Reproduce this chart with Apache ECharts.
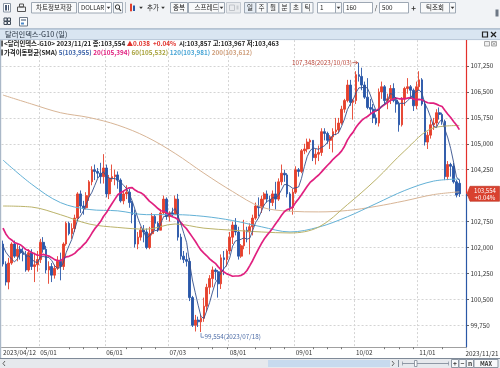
<!DOCTYPE html>
<html><head><meta charset="utf-8">
<script src="https://cdn.jsdelivr.net/npm/echarts@6/dist/echarts.min.js"></script>
<style>html,body{margin:0;padding:0;background:#fff;overflow:hidden}#c{width:500px;height:368px}</style>
</head><body><div id="c"></div>
<script>
// ---------- DATA ----------
// trading days (weekdays) 2023/04/12 .. 2023/11/21
const dates = (function () {
  const out = [];
  const d = new Date(Date.UTC(2023, 3, 12)), end = new Date(Date.UTC(2023, 10, 21));
  while (d <= end) {
    const wd = d.getUTCDay();
    if (wd > 0 && wd < 6) out.push(d.getUTCFullYear() + '/' + String(d.getUTCMonth() + 1).padStart(2, '0') + '/' + String(d.getUTCDate()).padStart(2, '0'));
    d.setUTCDate(d.getUTCDate() + 1);
  }
  return out;
})();
// closes before the visible window (for SMA5 / SMA20)
const priorCloses = [104.40,103.85,103.30,103.25,102.55,102.50,103.10,102.85,102.45,102.65,102.15,102.50,102.05,101.55,101.85,101.95,102.10,102.55,102.15];
const open = [
102.10,101.52,101.00,101.55,102.10,101.75,101.95,101.85,101.80,101.35,
101.85,101.45,101.50,101.65,102.15,101.95,101.35,101.45,101.20,101.40,
101.60,101.45,102.10,102.70,102.40,102.55,102.85,103.55,103.20,103.15,
103.50,103.90,104.25,104.20,104.15,104.05,104.30,103.55,104.00,104.05,
104.10,103.95,103.35,103.55,103.60,103.30,102.95,102.10,102.30,102.50,
102.45,102.00,102.40,102.90,102.70,102.50,103.00,103.40,102.90,103.00,
102.95,103.40,102.30,101.75,101.65,101.60,100.55,99.75,99.90,99.85,
99.95,100.30,100.85,101.10,101.35,101.30,100.95,101.70,101.65,101.90,
102.30,102.65,102.45,101.75,102.05,102.50,102.45,102.60,102.85,103.20,
103.15,103.40,103.55,103.40,103.30,103.55,103.40,103.90,104.15,104.10,
103.55,103.15,103.60,104.25,104.20,104.80,104.85,105.05,105.10,104.60,
104.70,104.75,105.35,105.30,105.10,105.20,105.35,105.40,105.60,106.00,
106.25,106.70,106.20,106.25,107.00,106.95,106.70,106.35,106.05,106.00,
105.75,105.60,106.50,106.65,106.25,106.30,106.60,106.25,106.15,105.55,
106.30,106.60,106.65,106.55,106.10,106.65,106.85,106.15,105.05,105.25,
105.55,105.60,105.90,105.85,105.65,104.05,104.40,104.35,103.90,103.857];
const close = [
101.52,101.00,101.55,102.10,101.75,101.95,101.85,101.80,101.35,101.85,
101.45,101.50,101.65,102.15,101.95,101.35,101.45,101.20,101.40,101.60,
101.45,102.10,102.70,102.40,102.55,102.85,103.55,103.20,103.15,103.50,
103.90,104.25,104.20,104.15,104.05,104.30,103.55,104.00,104.05,104.10,
103.95,103.35,103.55,103.60,103.30,102.95,102.10,102.30,102.50,102.45,
102.00,102.40,102.90,102.70,102.50,103.00,103.40,102.90,103.00,102.95,
103.40,102.30,101.75,101.65,101.60,100.55,99.75,99.90,99.85,99.95,
100.30,100.85,101.10,101.35,101.30,100.95,101.70,101.65,101.90,102.30,
102.65,102.45,101.75,102.05,102.50,102.45,102.60,102.85,103.20,103.15,
103.40,103.55,103.40,103.30,103.55,103.40,103.90,104.15,104.10,103.55,
103.15,103.60,104.25,104.20,104.80,104.85,105.05,105.10,104.60,104.70,
104.75,105.35,105.30,105.10,105.20,105.35,105.40,105.60,106.00,106.25,
106.70,106.20,106.25,107.00,106.95,106.70,106.35,106.05,106.00,105.75,
105.60,106.50,106.65,106.25,106.30,106.60,106.25,106.15,105.55,106.30,
106.60,106.65,106.55,106.10,106.65,106.85,106.15,105.05,105.25,105.55,
105.60,105.90,105.85,105.65,104.05,104.40,104.35,103.90,103.516,103.554];
const low = [
101.45,100.90,100.79,101.50,101.70,101.60,101.65,101.60,101.30,101.30,
101.35,101.00,101.30,101.55,101.85,101.25,100.95,101.00,101.10,101.35,
101.05,101.35,102.05,102.35,102.25,102.45,102.80,103.00,102.95,103.10,
103.35,103.80,103.95,104.00,103.85,103.85,103.45,103.40,103.90,103.80,
103.70,103.30,103.25,103.40,103.15,102.70,102.00,101.95,102.20,102.15,
101.95,101.95,102.35,102.50,102.45,102.50,102.95,102.80,102.75,102.90,
102.95,102.20,101.65,101.55,101.45,100.45,99.70,99.57,99.70,99.554,
99.85,100.15,100.65,100.85,101.05,100.55,100.80,101.20,101.45,101.80,
102.10,102.35,101.65,101.70,101.95,102.15,101.80,102.35,102.80,102.90,
103.00,103.20,103.30,103.05,103.20,103.10,103.35,103.80,103.90,103.45,
103.05,102.95,103.55,104.05,104.15,104.70,104.75,104.85,104.50,104.40,
104.50,104.65,105.10,105.00,104.85,104.75,105.25,105.30,105.55,105.90,
106.20,106.10,105.70,106.15,106.80,106.55,106.30,106.00,105.85,105.60,
105.55,105.50,106.30,106.15,106.00,106.15,106.20,105.90,105.35,105.50,
106.10,106.45,106.30,105.95,106.00,106.55,106.10,104.95,104.85,105.15,
105.40,105.50,105.70,105.55,103.95,103.95,104.05,103.85,103.45,103.463];
const high = [
102.20,101.60,101.70,102.15,102.20,102.10,102.05,102.00,101.90,101.95,
101.95,101.85,101.90,102.25,102.30,102.05,101.60,101.55,101.50,101.75,
101.85,102.15,102.75,102.75,102.70,102.95,103.60,103.65,103.35,103.60,
103.95,104.35,104.40,104.30,104.45,104.70,104.40,104.10,104.40,104.25,
104.20,104.00,103.65,103.80,103.70,103.35,103.10,102.45,102.60,102.65,
102.55,102.60,103.00,102.95,102.75,103.10,103.50,103.45,103.05,103.15,
103.50,103.55,102.40,101.90,101.85,101.70,100.60,100.05,100.00,100.05,
100.55,100.95,101.20,101.45,101.40,101.35,101.80,101.90,101.95,102.45,
102.75,102.85,102.60,102.10,102.80,102.60,102.70,102.95,103.30,103.45,
103.50,103.60,103.65,103.50,103.65,103.90,104.00,104.40,104.25,104.15,
103.60,103.70,104.35,104.30,104.85,105.00,105.15,105.15,105.10,104.85,
104.95,105.45,105.45,105.35,105.25,105.45,105.75,105.75,106.10,106.30,
106.85,106.85,106.30,107.10,107.348,107.20,106.80,106.90,106.30,106.15,
105.85,106.60,106.80,106.70,106.45,106.70,106.75,106.35,106.20,106.35,
106.65,106.90,106.70,106.60,106.80,107.10,106.90,106.20,105.35,105.70,
105.75,106.00,106.05,105.90,105.70,104.50,104.45,104.45,103.95,103.967];
// long moving averages at these candle indices
const maIdx  = [0, 10, 20, 30, 40, 50, 60, 70, 80, 90, 100, 110, 120, 130, 140, 150, 159];
const ma60   = [103.20,103.17,102.95,102.68,102.58,102.53,102.68,102.56,102.50,102.45,102.42,102.59,103.24,103.97,104.80,105.46,105.53];
const ma120  = [104.53,103.83,103.30,103.10,103.06,102.95,102.95,102.90,102.78,102.60,102.45,102.59,102.89,103.27,103.65,103.92,103.98];
const ma200  = [106.41,106.15,105.90,105.76,105.54,105.20,104.72,104.15,103.62,103.17,103.05,103.03,103.07,103.19,103.35,103.53,103.61];
// legend values shown in the header
const smaPeriods = [5, 20, 60, 120, 200];
const smaLegend = [103.955, 105.394, 105.532, 103.981, 103.612];
// y axis ticks
const yMin = 99, yMax = 108, yStep = 0.75;

// ---------- HELPERS ----------
const FF = '"Noto Sans CJK KR","Noto Sans",sans-serif';
const fmt3 = v => v.toFixed(3).replace('.', ',');
function sma(n) {
  const all = priorCloses.concat(close), off = priorCloses.length;
  return close.map((_, i) => {
    const k = i + off; if (k - n + 1 < 0) return null;
    let s = 0; for (let j = k - n + 1; j <= k; j++) s += all[j];
    return +(s / n).toFixed(4);
  });
}
const ma5 = sma(5), ma20 = sma(20);
const candles = close.map((c, i) => [open[i], c, low[i], high[i]]);
const xData = dates.concat(['', '']);
const monthSet = new Set(); dates.forEach((d, i) => { if (i > 0 && d.slice(5, 7) !== dates[i - 1].slice(5, 7)) monthSet.add(i); });
const labelSet = new Set([0, ...monthSet]);
const tickSet = new Set();
dates.forEach((d, i) => {
  const wd = new Date(d.replace(/\//g, '-') + 'T00:00:00Z').getUTCDay();
  if (wd === 1 && ![...labelSet].some(m => i >= m && i - m < 6) && i < 156) tickSet.add(i);
});
const COL = { up: '#e5412c', down: '#2957a8', m5: '#34508c', m20: '#e0207f', m60: '#bbb36a', m120: '#63b1d6', m200: '#d8b596' };

const chart = echarts.init(document.getElementById('c'), null, { renderer: 'canvas' });
const GRID_RIGHT = 33.5;
const lastC = close[close.length - 1], prevC = close[close.length - 2];
const chg = lastC - prevC, pct = chg / prevC * 100;
const chgStr = (chg >= 0 ? '▲' : '▼') + Math.abs(chg).toFixed(3);
const pctStr = (pct >= 0 ? '+' : '') + pct.toFixed(2) + '%';
const L = close.length - 1;
const HF = 6.35;

const option = {
  animation: false,
  backgroundColor: '#ffffff',
  title: [
    { left: 4, top: 39, padding: 0,
      text: '{k|<달러인덱스-G10> ' + dates[L] + ' 종:' + fmt3(lastC) + ' }{r|' + chgStr + '  ' + pctStr + '}{k|  시:' + fmt3(open[L]) + ' 고:' + fmt3(high[L]) + ' 저:' + fmt3(low[L]) + '}',
      textStyle: { rich: {
        k: { color: '#222', fontSize: HF, fontFamily: FF, lineHeight: 9 },
        r: { color: '#e0302a', fontSize: HF, fontFamily: FF, lineHeight: 9 } } } },
    { left: 4, top: 48, padding: 0,
      text: '{k|가격이동평균(SMA) }' + smaPeriods.map((p, i) => '{s' + i + '|' + p + '(' + fmt3(smaLegend[i]) + ')}').join('{k| }'),
      textStyle: { rich: {
        k: { color: '#222', fontSize: HF, fontFamily: FF, lineHeight: 9 },
        s0: { color: '#3b62a8', fontSize: HF, fontFamily: FF, lineHeight: 9 },
        s1: { color: '#e0207f', fontSize: HF, fontFamily: FF, lineHeight: 9 },
        s2: { color: '#a8a23c', fontSize: HF, fontFamily: FF, lineHeight: 9 },
        s3: { color: '#4aa6d6', fontSize: HF, fontFamily: FF, lineHeight: 9 },
        s4: { color: '#cf9f7c', fontSize: HF, fontFamily: FF, lineHeight: 9 } } } }
  ],
  grid: { left: 0, right: GRID_RIGHT, top: 40.1, bottom: 16.8 },
  xAxis: [
    { type: 'category', data: xData, boundaryGap: true, z: 0,
      axisLine: { show: false }, axisTick: { show: false }, axisLabel: { show: false },
      splitLine: { show: true, interval: (i) => monthSet.has(i), lineStyle: { color: '#d4d4d4', type: [2, 2], width: 1 } } },
    { type: 'category', data: xData, boundaryGap: true, position: 'bottom', offset: -4, z: 10,
      axisLine: { show: true, lineStyle: { color: '#a0a0a0', width: 1 } },
      axisTick: { show: true, alignWithLabel: true, interval: (i) => tickSet.has(i), length: 2, lineStyle: { color: '#777' } },
      axisLabel: { show: true, interval: (i) => labelSet.has(i), align: 'left', margin: 2.5,
        fontSize: 6.3, fontFamily: FF, color: '#333',
        formatter: (v, i) => (i === 0 ? v : v.slice(5)) },
      splitLine: { show: false } }
  ],
  yAxis: {
    type: 'value', position: 'right', min: yMin, max: yMax, interval: yStep,
    axisLine: { show: false },
    axisTick: { show: true, length: 2.5, lineStyle: { color: '#666' } },
    axisLabel: { fontSize: 6.3, fontFamily: FF, color: '#333', margin: 4, showMinLabel: false, showMaxLabel: false,
      formatter: v => fmt3(v) },
    splitLine: { show: true, showMinLine: false, showMaxLine: false, lineStyle: { color: '#d4d4d4', type: [2, 2], width: 1 } }
  },
  series: [
    { type: 'candlestick', xAxisIndex: 0, data: candles, barWidth: 2.2,
      itemStyle: { color: COL.up, color0: COL.down, borderColor: COL.up, borderColor0: COL.down, borderWidth: 0.9 } },
    { type: 'line', name: 'SMA200', data: maIdx.map((x, k) => [x, ma200[k]]), smooth: 0.35, symbol: 'none', lineStyle: { width: 1, color: COL.m200 }, z: 3 },
    { type: 'line', name: 'SMA120', data: maIdx.map((x, k) => [x, ma120[k]]), smooth: 0.35, symbol: 'none', lineStyle: { width: 1, color: COL.m120 }, z: 3 },
    { type: 'line', name: 'SMA60', data: maIdx.map((x, k) => [x, ma60[k]]), smooth: 0.35, symbol: 'none', lineStyle: { width: 1, color: COL.m60 }, z: 3 },
    { type: 'line', name: 'SMA20', data: ma20, symbol: 'none', lineStyle: { width: 1.7, color: COL.m20 }, z: 4 },
    { type: 'line', name: 'SMA5', data: ma5, symbol: 'none', lineStyle: { width: 0.9, color: COL.m5 }, z: 4 }
  ]
};
chart.setOption(option);

// ---------- CHROME / ANNOTATIONS ----------
function rect(x, y, w, h, fill, stroke, z, lw) { return { type: 'rect', silent: true, z: z == null ? 100 : z, shape: { x, y, width: w, height: h }, style: { fill: fill || 'none', stroke: stroke || null, lineWidth: lw || 1 } }; }
function line(x1, y1, x2, y2, color, w, z) { return { type: 'line', silent: true, z: z == null ? 100 : z, shape: { x1, y1, x2, y2 }, style: { stroke: color, lineWidth: w || 1 } }; }
function poly(points, stroke, fill, w) { return { type: fill ? 'polygon' : 'polyline', silent: true, z: 100, shape: { points }, style: { stroke: stroke || null, fill: fill || 'none', lineWidth: w || 1 } }; }
function text(x, y, s, o) {
  o = o || {};
  return { type: 'text', silent: true, z: 101, x, y, style: { text: s, fill: o.fill || '#222', font: (o.weight || 'normal') + ' ' + (o.size || 6.6) + 'px ' + FF, textAlign: o.align || 'left', textVerticalAlign: 'middle' } };
}
function tri(x, y) { return poly([[x - 1.8, y - 1], [x + 1.8, y - 1], [x, y + 1.2]], null, '#333'); }
function btn(x, w, label, o) {
  o = o || {};
  const out = [rect(x + 0.5, 2.5, w, 10.5, o.fill || '#f8f9fa', '#9ea8b4')];
  if (label) out.push(text(x + 0.5 + w / 2, 7.8, label, { size: o.size || 6.5, align: 'center' }));
  return out;
}

function buildGraphic() {
  const P = (i, v) => chart.convertToPixel({ seriesIndex: 0 }, [i, v]);
  const AX = chart.getWidth() - GRID_RIGHT;
  const g = [];
  // toolbar
  g.push(rect(0, 0, 500, 29, '#f1f3f6', null, 99));
  g.push(line(0, 28.5, 500, 28.5, '#b9c4d1', 1));
  g.push(rect(3.5, 3.5, 7, 8.5, '#ffffff', '#8a96a4'), rect(5, 5, 2, 5.5, '#4a5a74', null), rect(8, 5, 1, 5.5, '#4a5a74', null));
  g.push(rect(17.5, 7, 8, 4.5, 'none', '#555'), rect(19.5, 4, 4, 3, 'none', '#555'));
  g.push(...btn(31, 45, '차트정보저장'));
  g.push(rect(78.5, 2.5, 33, 10.5, '#ffffff', '#9ea8b4'), text(81, 7.8, 'DOLLAR', { size: 6.2 }), line(105.5, 3, 105.5, 12.5, '#c0c6ce'), tri(108.5, 7.8));
  g.push(rect(113.5, 2.5, 9, 10.5, '#f8f9fa', '#9ea8b4'), { type: 'circle', silent: true, z: 101, shape: { cx: 117.5, cy: 7, r: 2.2 }, style: { fill: 'none', stroke: '#333', lineWidth: 1 } }, line(119, 8.6, 121, 10.8, '#333', 1.2));
  g.push(line(125.5, 2, 125.5, 13, '#b5bdc7'));
  g.push(rect(130, 4, 2, 7, '#e3412e', null), rect(133, 5.5, 2, 5.5, '#2b59a6', null), line(131, 3, 131, 12, '#e3412e', 0.6), tri(141, 7.8));
  g.push(text(147, 7.8, '추가', { size: 6.5 }), tri(163, 7.8));
  g.push(...btn(170, 17, '중복'));
  g.push(...btn(188, 36, '스프레드'), line(218.5, 3, 218.5, 12.5, '#c0c6ce'), tri(221.5, 7.8));
  g.push(rect(226.5, 2.5, 14, 10.5, '#e9ebee', '#c3c9d1'), rect(229.5, 5, 5, 5.5, 'none', '#c0c4ca'), rect(236.5, 5.5, 2, 4, '#c9ccd1', null));
  ['일', '주', '월', '분', '초', '틱'].forEach((s, k) => g.push(...btn(244 + k * 11.5, 11, s, { fill: k === 0 ? '#e6edf5' : '#f8f9fa' })));
  g.push(rect(317.5, 2.5, 18, 10.5, '#ffffff', '#9ea8b4'), text(320, 7.8, '1', { size: 6.3 }), rect(335.5, 2.5, 6, 10.5, '#f8f9fa', '#9ea8b4'), tri(338.5, 7.8));
  g.push(rect(343.5, 2.5, 29, 10.5, '#ffffff', '#9ea8b4'), text(346, 7.8, '160', { size: 6.3 }));
  g.push(text(376, 7.8, '/', { size: 6.5, align: 'center' }));
  g.push(rect(379.5, 2.5, 29, 10.5, '#ffffff', '#9ea8b4'), text(382, 7.8, '500', { size: 6.3 }));
  g.push(text(413.5, 7.6, '+', { size: 8, align: 'center', weight: 'bold', fill: '#333' }));
  g.push(...btn(420, 29, '틱조회'), rect(449.5, 2.5, 6, 10.5, '#f8f9fa', '#9ea8b4'), tri(452.5, 7.8));
  g.push(rect(495.5, 9.5, 3, 7, '#6d7785', null));
  // row 2 icons
  [[4, 18], [7.5, 18], [4, 21.5], [7.5, 21.5]].forEach(p => g.push(rect(p[0], p[1], 3, 3, 'none', '#3f4a58')));
  g.push(rect(19.5, 17.5, 8, 8.5, '#ffffff', '#6b7685'), rect(21, 19, 5, 2, '#9aa6b4', null), rect(21, 22.5, 3, 2, '#4d8acb', null));
  // title bar
  g.push(rect(0, 29, 500, 10.8, '#d9e5f1', null, 99), line(0, 29.2, 500, 29.2, '#aebfd2'), line(0, 39.6, 500, 39.6, '#b8c7d8'));
  g.push(text(5, 34.6, '달러인덱스-G10 (일)', { size: 7.3, fill: '#1e2a38' }));
  g.push(rect(482.5, 32, 5, 5, 'none', '#222', 100, 1.2), line(491, 32, 496, 37, '#222', 1.3), line(496, 32, 491, 37, '#222', 1.3));
  // small panel icons
  g.push(rect(484.5, 41.5, 5, 4.5, '#f0f0f0', '#a8a8a8'), rect(491.5, 41.5, 5, 4.5, '#f0f0f0', '#a8a8a8'), line(492.3, 42.3, 495.7, 45.2, '#999', 0.8), line(495.7, 42.3, 492.3, 45.2, '#999', 0.8));
  // legend markers
  g.push(rect(1.2, 40.5, 1.6, 6, '#333', null), rect(1.2, 49.5, 1.6, 6, '#333', null));
  // left border
  g.push(line(0.6, 40, 0.6, 358, '#aab8c8', 1.2));
  // cover to stop vertical grid lines at the x axis
  g.push(rect(1.2, 347.6, AX - 1.2, 10.4, '#ffffff', null, 1));
  // right axis line: red above last price, blue below
  const yp = P(L, lastC)[1];
  g.push(line(AX, 40, AX, yp, '#e3302b', 1.2), line(AX, yp, AX, 347.2, '#2a58a6', 1.2));
  // price tag
  g.push(poly([[AX + 0.5, yp], [AX + 3.5, yp - 7.5], [499.5, yp - 7.5], [499.5, yp + 7.5], [AX + 3.5, yp + 7.5]], '#b8301f', '#d9412f', 0.6));
  g.push(text(485, yp - 3.4, fmt3(lastC), { size: 6.1, fill: '#ffffff', align: 'center' }));
  g.push(text(485, yp + 3.6, pctStr, { size: 6.1, fill: '#ffffff', align: 'center' }));
  // last x label
  g.push(text(498.5, 353.6, dates[L], { size: 6.3, fill: '#333', align: 'right' }));
  // high annotation
  let iH = 0; high.forEach((v, i) => { if (v > high[iH]) iH = i; });
  const [hx, hy] = P(iH, high[iH]);
  g.push(text(hx - 7, hy, fmt3(high[iH]) + '(' + dates[iH] + ')', { size: 6.3, fill: '#b9473b', align: 'right' }));
  g.push(line(hx - 6.5, hy, hx - 1.2, hy, '#b9473b', 0.8), poly([[hx - 3.4, hy - 1.6], [hx - 1.2, hy], [hx - 3.4, hy + 1.6]], '#b9473b', null, 0.8));
  // low annotation
  let iL = 0; low.forEach((v, i) => { if (v < low[iL]) iL = i; });
  const [lx, ly] = P(iL, low[iL]);
  g.push(poly([[lx, ly + 1], [lx, ly + 5.2], [lx + 3, ly + 5.2]], '#5a78b0', null, 0.8));
  g.push(text(lx + 3.5, ly + 5, fmt3(low[iL]) + '(' + dates[iL] + ')', { size: 6.3, fill: '#4f6ea8' }));
  // bottom scrollbar row
  g.push(line(0, 358.5, 500, 358.5, '#7f8a98', 1));
  g.push(rect(0, 359, 500, 9, '#e6e9ed', null, 99));
  g.push(poly([[5, 361], [3, 363.5], [5, 366]], '#555', null, 0.9));
  g.push(rect(268, 360, 122, 7, '#c7daee', null));
  g.push(poly([[392, 361], [394, 363.5], [392, 366]], '#555', null, 0.9));
  g.push(line(398.5, 360, 398.5, 367, '#6b7785', 0.8));
  g.push(line(402, 363.5, 449, 363.5, '#8f99a6', 1), line(402.5, 361.5, 402.5, 365.5, '#8f99a6', 0.8), line(448.5, 361.5, 448.5, 365.5, '#8f99a6', 0.8));
  g.push(rect(414.5, 360.5, 2.5, 6, '#ffffff', '#7c8794', 100, 0.8));
  [[451.5, 7, '+'], [459, 7, '−'], [466.5, 7, 'n'], [474, 24, 'MAX']].forEach(b => {
    g.push(rect(b[0], 359.5, b[1], 8, '#f7f8fa', '#8d97a3'));
    g.push(text(b[0] + b[1] / 2, 363.6, b[2], { size: b[2] === 'MAX' ? 5.6 : 6.6, align: 'center', weight: 'bold', fill: '#333' }));
  });
  return g;
}
chart.setOption({ graphic: { elements: buildGraphic() } });
</script>
</body></html>
